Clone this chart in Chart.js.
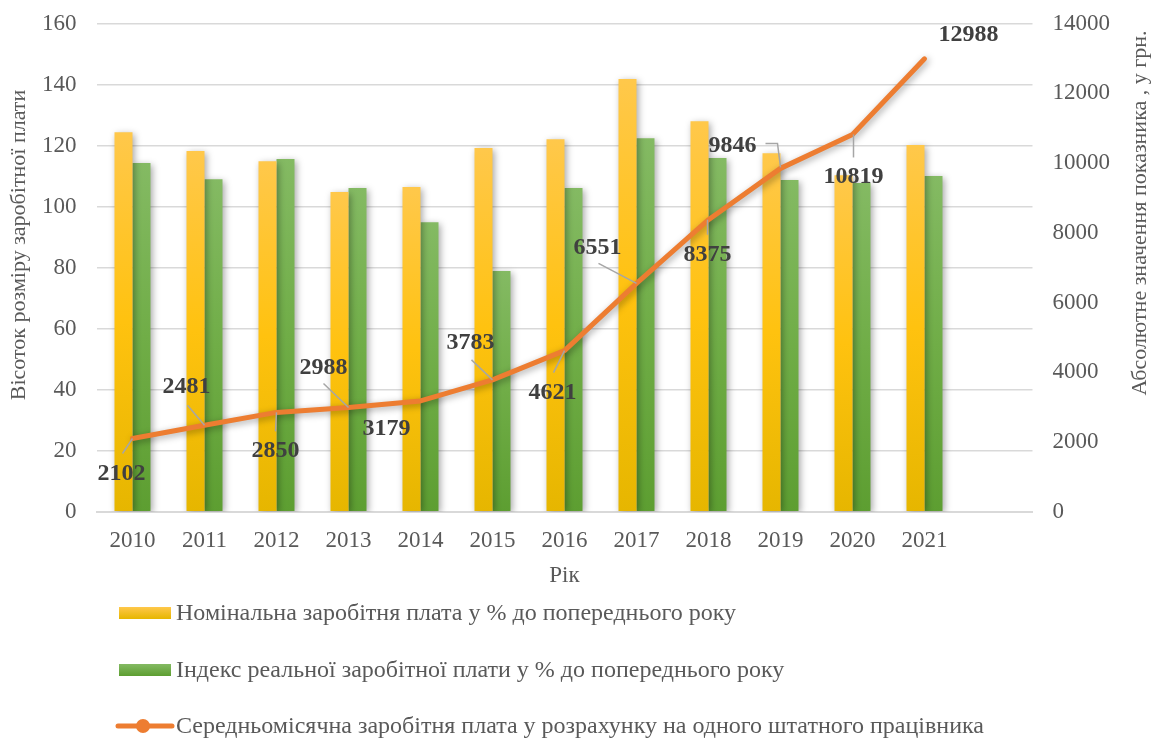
<!DOCTYPE html>
<html>
<head>
<meta charset="utf-8">
<script src="https://cdn.jsdelivr.net/npm/chart.js@4.4.0/dist/chart.umd.min.js"></script>
<style>
  html, body { margin: 0; padding: 0; background: #ffffff; }
  #wrap { width: 1162px; height: 740px; position: relative; }
</style>
</head>
<body>
<div id="wrap"><canvas id="c" width="1162" height="740"></canvas></div>
<script>
// ---- data ----
const years = ['2010','2011','2012','2013','2014','2015','2016','2017','2018','2019','2020','2021',''];
const nominalIndex = [124.4, 118.2, 114.9, 104.8, 106.4, 119.2, 122.1, 141.8, 128.0, 117.5, 110.3, 120.2];
const realIndex    = [114.3, 109.0, 115.6, 106.1, 94.9, 78.9, 106.1, 122.4, 115.9, 108.7, 107.7, 110.0];
const avgWage      = [2102, 2481, 2850, 2988, 3179, 3783, 4621, 6551, 8375, 9846, 10819, 12988];
const leftTicks  = [0, 20, 40, 60, 80, 100, 120, 140, 160];
const rightTicks = [0, 2000, 4000, 6000, 8000, 10000, 12000, 14000];
const seriesNames = [
  'Номінальна заробітня плата у % до попереднього року',
  'Індекс реальної заробітної плати у % до попереднього року',
  'Середньомісячна заробітня плата у розрахунку на одного штатного працівника'
];
const leftTitle = 'Вісоток розміру заробітної плати';
const rightTitle = 'Абсолютне значення показника , у грн.';
const xTitle = 'Рік';

const FONT = '"Liberation Serif", "Times New Roman", serif';
const GREY = '#595959';

function barGradient(colors) {
  return function(ctx) {
    const chart = ctx.chart;
    const y = chart.scales && chart.scales.y;
    if (!chart.chartArea || !y || ctx.raw == null) return colors[1];
    const top = y.getPixelForValue(ctx.raw);
    const base = y.getPixelForValue(0);
    if (!isFinite(top) || !isFinite(base) || top === base) return colors[1];
    const g = chart.ctx.createLinearGradient(0, top, 0, base);
    g.addColorStop(0, colors[0]);
    g.addColorStop(0.5, colors[1]);
    g.addColorStop(1, colors[2]);
    return g;
  };
}
const yellowStops = ['#ffc84b', '#ffc20f', '#e6b600'];
const greenStops  = ['#84ba63', '#70ad47', '#5d9e31'];

// label placement (offsets from point, pixels) and leader line paths
const labelPlacement = [
  {dx: -11, dy: 35, lead: [[-10, 15], [0, 0]]},
  {dx: -18, dy: -38, lead: [[-17, -20], [0, 0]]},
  {dx: -1, dy: 38, lead: [[-1, 19], [0, 0]]},
  {dx: -25, dy: -40, lead: [[-25, -24], [0, 0]]},
  {dx: -34, dy: 28, lead: null},
  {dx: -22, dy: -37, lead: [[-21, -20], [0, 0]]},
  {dx: -12, dy: 42, lead: [[-11, 22], [0, 0]]},
  {dx: -39, dy: -36, lead: [[-38, -20], [0, 0]]},
  {dx: -1, dy: 35, lead: [[-1, 15], [-1, 0]]},
  {dx: -48, dy: -23, lead: [[-15, -25], [-3, -25], [0, -1]]},
  {dx: 1, dy: 42, lead: [[1, 23], [1, 0]]},
  {dx: 44, dy: -24, lead: null}
];

const shadowPlugin = {
  id: 'shadow',
  beforeDatasetDraw(chart, args) {
    const c = chart.ctx;
    c.save();
    c.shadowColor = 'rgba(0,0,0,0.35)';
    c.shadowBlur = 7;
    c.shadowOffsetX = 2;
    c.shadowOffsetY = 2;
  },
  afterDatasetDraw(chart) {
    chart.ctx.restore();
  }
};

const decorPlugin = {
  id: 'decor',
  afterDraw(chart) {
    const c = chart.ctx;
    const meta = chart.getDatasetMeta(2);
    // leader lines
    c.save();
    c.strokeStyle = '#a6a6a6';
    c.lineWidth = 1.5;
    meta.data.forEach((pt, i) => {
      const p = labelPlacement[i];
      if (!p || !p.lead) return;
      c.beginPath();
      p.lead.forEach((o, k) => {
        const x = pt.x + o[0], y = pt.y + o[1];
        if (k === 0) c.moveTo(x, y); else c.lineTo(x, y);
      });
      c.stroke();
    });
    // labels
    c.font = 'bold 24px ' + FONT;
    c.fillStyle = '#404040';
    c.textAlign = 'center';
    c.textBaseline = 'middle';
    meta.data.forEach((pt, i) => {
      const p = labelPlacement[i];
      c.fillText(String(avgWage[i]), pt.x + p.dx, pt.y + p.dy);
    });
    c.restore();

    // axis titles (both read bottom-to-top)
    c.save();
    c.font = '22px ' + FONT;
    c.fillStyle = GREY;
    c.textAlign = 'center';
    c.textBaseline = 'middle';
    c.translate(19, 245);
    c.rotate(-Math.PI / 2);
    c.fillText(leftTitle, 0, 0);
    c.restore();
    c.save();
    c.font = '22px ' + FONT;
    c.fillStyle = GREY;
    c.textAlign = 'center';
    c.textBaseline = 'middle';
    c.translate(1140, 213);
    c.rotate(-Math.PI / 2);
    c.fillText(rightTitle, 0, 0);
    c.restore();

    // legend
    const rows = [613, 670, 726];
    c.save();
    c.font = '24px ' + FONT;
    c.textAlign = 'left';
    c.textBaseline = 'middle';
    let g = c.createLinearGradient(0, rows[0] - 6, 0, rows[0] + 6);
    g.addColorStop(0, yellowStops[0]); g.addColorStop(1, yellowStops[2]);
    c.fillStyle = g;
    c.fillRect(119, rows[0] - 6, 52, 12);
    g = c.createLinearGradient(0, rows[1] - 6, 0, rows[1] + 6);
    g.addColorStop(0, greenStops[0]); g.addColorStop(1, greenStops[2]);
    c.fillStyle = g;
    c.fillRect(119, rows[1] - 6, 52, 12);
    c.strokeStyle = '#ed7d31';
    c.lineWidth = 5;
    c.lineCap = 'round';
    c.beginPath();
    c.moveTo(118, rows[2]); c.lineTo(172, rows[2]);
    c.stroke();
    c.fillStyle = '#ed7d31';
    c.beginPath();
    c.arc(143, rows[2], 7, 0, Math.PI * 2);
    c.fill();
    c.fillStyle = GREY;
    seriesNames.forEach((t, i) => c.fillText(t, 176, rows[i] + 1));
    c.restore();
  }
};

function trimTop(scale) { scale.paddingTop = 23.5; }

const chart = new Chart(document.getElementById('c'), {
  data: {
    labels: years,
    datasets: [
      {
        type: 'bar', label: seriesNames[0], data: nominalIndex, yAxisID: 'y',
        backgroundColor: barGradient(yellowStops), borderWidth: 0,
        categoryPercentage: 0.5, barPercentage: 1.0, order: 2
      },
      {
        type: 'bar', label: seriesNames[1], data: realIndex, yAxisID: 'y',
        backgroundColor: barGradient(greenStops), borderWidth: 0,
        categoryPercentage: 0.5, barPercentage: 1.0, order: 2
      },
      {
        type: 'line', label: seriesNames[2], data: avgWage, yAxisID: 'y1',
        borderColor: '#ed7d31', borderWidth: 5, pointRadius: 0, tension: 0,
        borderCapStyle: 'round', borderJoinStyle: 'round', fill: false, order: 0
      }
    ]
  },
  options: {
    responsive: false,
    animation: false,
    devicePixelRatio: 1,
    layout: { padding: { left: 22, right: 32, top: 0, bottom: 150 } },
    plugins: { legend: { display: false }, tooltip: { enabled: false }, title: { display: false } },
    scales: {
      x: {
        type: 'category',
        offset: true,
        grid: { display: false },
        border: { display: true, color: '#d9d9d9', width: 2 },
        ticks: { color: GREY, font: { family: FONT, size: 23 }, padding: 7, maxRotation: 0, autoSkip: false },
        title: { display: true, text: xTitle, color: GREY, font: { family: FONT, size: 23 }, padding: { top: 1, bottom: 0 } }
      },
      y: {
        position: 'left',
        min: 0, max: 160,
        afterBuildTicks(scale) { scale.ticks = leftTicks.map(v => ({ value: v })); },
        afterFit: trimTop,
        grid: { color: '#d9d9d9', lineWidth: 1.5, drawTicks: false },
        border: { display: false },
        ticks: { color: GREY, font: { family: FONT, size: 23 }, padding: 20, callback: v => String(v) }
      },
      y1: {
        position: 'right',
        min: 0, max: 14000,
        afterBuildTicks(scale) { scale.ticks = rightTicks.map(v => ({ value: v })); },
        afterFit: trimTop,
        grid: { drawOnChartArea: false, drawTicks: false },
        border: { display: false },
        ticks: { color: GREY, font: { family: FONT, size: 23 }, padding: 20, callback: v => String(v) }
      }
    }
  },
  plugins: [shadowPlugin, decorPlugin]
});
</script>
</body>
</html>
